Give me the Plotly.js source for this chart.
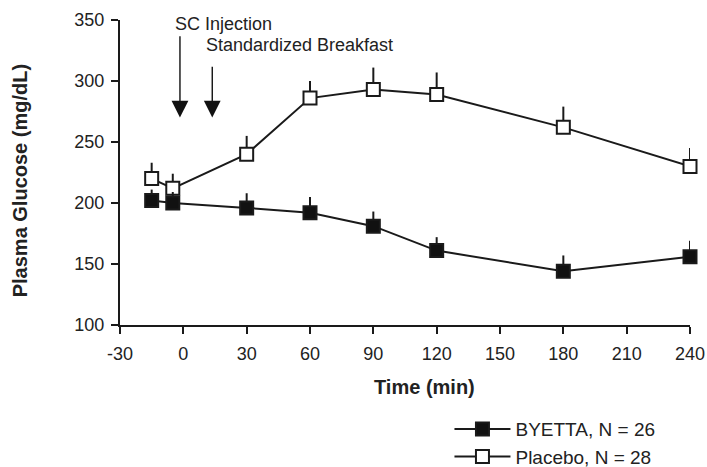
<!DOCTYPE html>
<html>
<head>
<meta charset="utf-8">
<script src="https://cdn.plot.ly/plotly-3.0.1.min.js"></script>
<style>html,body{margin:0;padding:0;background:#fff;}#chart{width:707px;height:467px;}</style>
</head>
<body>
<div id="chart"></div>
<script>
var timeMin = [-15, -5, 30, 60, 90, 120, 180, 240];
var byettaMean = [202, 200, 196, 192, 181, 161, 144, 156];
var byettaErr = [9, 9, 12, 13, 12, 11, 13, 13];
var placeboMean = [220, 212, 240, 286, 293, 289, 262, 230];
var placeboErr = [13, 12, 15, 14, 18, 18, 17, 15];
var xTicks = [-30, 0, 30, 60, 90, 120, 150, 180, 210, 240];
var yTicks = [100, 150, 200, 250, 300, 350];
var seriesNames = ['BYETTA, N = 26', 'Placebo, N = 28'];

var FONT = 'Liberation Sans, Arial, Helvetica, sans-serif';
var INK = '#1a1a1a';

var placebo = {
  x: timeMin, y: placeboMean, name: seriesNames[1], type: 'scatter', mode: 'lines+markers',
  legendgroup: 'p', legendrank: 2,
  line: {color: INK, width: 2},
  marker: {symbol: 'square', size: 13, color: '#ffffff', line: {color: INK, width: 2}},
  error_y: {type: 'data', symmetric: false, array: placeboErr, arrayminus: placeboErr.map(function(){return 0;}), color: INK, thickness: 2, width: 0},
  cliponaxis: false
};
var byetta = {
  x: timeMin, y: byettaMean, name: seriesNames[0], type: 'scatter', mode: 'lines+markers',
  legendgroup: 'b', legendrank: 1,
  line: {color: INK, width: 2},
  marker: {symbol: 'square', size: 13, color: '#111111', line: {color: INK, width: 2}},
  error_y: {type: 'data', symmetric: false, array: byettaErr, arrayminus: byettaErr.map(function(){return 0;}), color: INK, thickness: 2, width: 0},
  cliponaxis: false
};

var axisCommon = {
  showline: true, linewidth: 2, linecolor: INK,
  ticks: 'outside', ticklen: 7, tickwidth: 2, tickcolor: INK,
  showgrid: false, zeroline: false, automargin: false,
  tickfont: {family: FONT, size: 18, color: '#222'}
};

var layout = {
  width: 707, height: 467,
  margin: {l: 120, r: 17, t: 20, b: 142},
  paper_bgcolor: '#fff', plot_bgcolor: '#fff',
  font: {family: FONT, color: '#222'},
  xaxis: Object.assign({}, axisCommon, {range: [-30, 240], tickvals: xTicks, ticktext: xTicks.map(String), ticklabelstandoff: 4}),
  yaxis: Object.assign({}, axisCommon, {range: [100, 350], tickvals: yTicks, ticktext: yTicks.map(String), ticklabelstandoff: 3}),
  showlegend: true,
  legend: {
    xref: 'paper', yref: 'container',
    x: 0.578, y: 0.122, xanchor: 'left', yanchor: 'top',
    traceorder: 'grouped', tracegroupgap: 0, itemwidth: 56,
    font: {family: FONT, size: 19, color: '#222'},
    bgcolor: 'rgba(0,0,0,0)'
  },
  annotations: [
    {xref: 'paper', yref: 'paper', x: 0.535, y: -0.203, xanchor: 'center', yanchor: 'middle', showarrow: false,
     text: '<b>Time (min)</b>', font: {family: FONT, size: 20, color: '#222'}},
    {xref: 'paper', yref: 'paper', x: -0.175, y: 0.472, xanchor: 'center', yanchor: 'middle', showarrow: false,
     textangle: -90, text: '<b>Plasma Glucose (mg/dL)</b>', font: {family: FONT, size: 20, color: '#222'}},
    {xref: 'x', yref: 'y', x: -4.9, y: 346.7, xanchor: 'left', yanchor: 'middle', showarrow: false,
     text: 'SC Injection', font: {family: FONT, size: 18, color: '#222'}},
    {xref: 'x', yref: 'y', x: 9.8, y: 329.5, xanchor: 'left', yanchor: 'middle', showarrow: false,
     text: 'Standardized Breakfast', font: {family: FONT, size: 18, color: '#222'}},
    {xref: 'x', yref: 'y', x: -1.6, y: 270, axref: 'x', ayref: 'y', ax: -1.6, ay: 338, text: '',
     showarrow: true, arrowhead: 2, arrowsize: 2.4, arrowwidth: 1.4, arrowcolor: '#111'},
    {xref: 'x', yref: 'y', x: 13.7, y: 270, axref: 'x', ayref: 'y', ax: 13.7, ay: 313, text: '',
     showarrow: true, arrowhead: 2, arrowsize: 2.4, arrowwidth: 1.4, arrowcolor: '#111'}
  ]
};

Plotly.newPlot('chart', [placebo, byetta], layout, {displayModeBar: false, staticPlot: true});
</script>
</body>
</html>
